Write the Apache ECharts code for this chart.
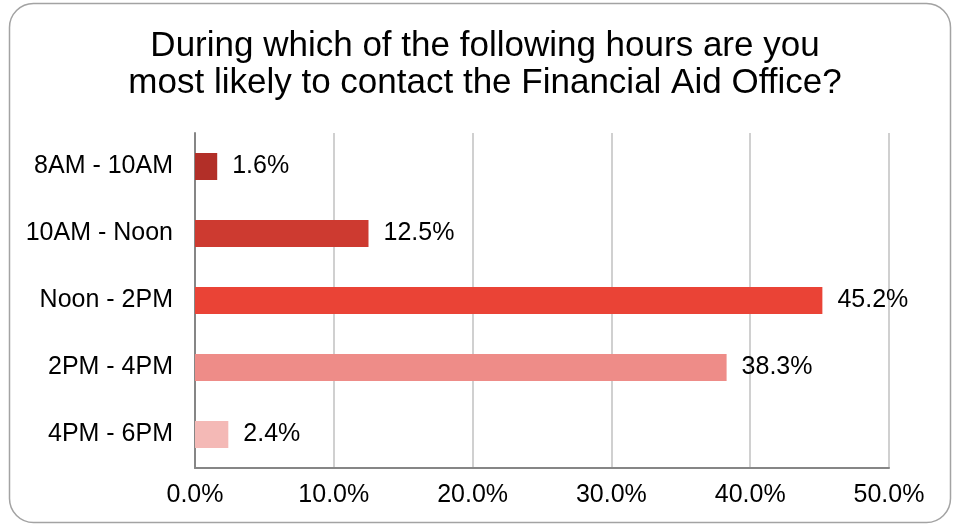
<!DOCTYPE html>
<html>
<head>
<meta charset="utf-8">
<script src="https://cdn.jsdelivr.net/npm/echarts@6/dist/echarts.min.js"></script>
<style>
  html, body { margin: 0; padding: 0; background: #fff; }
  #chart { width: 953px; height: 526px; }
</style>
</head>
<body>
<div id="chart"></div>
<script>
// categories top to bottom as shown
const categories = ['8AM - 10AM', '10AM - Noon', 'Noon - 2PM', '2PM - 4PM', '4PM - 6PM']
const percents = [1.6, 12.5, 45.2, 38.3, 2.4]
const barColors = ['#b22f28', '#cd3a30', '#ea4336', '#ee8c88', '#f4b9b6']
const titleText = 'During which of the following hours are you\nmost likely to contact the Financial Aid Office?'

const chart = echarts.init(document.getElementById('chart'))

const font = 'Liberation Sans, Arial, sans-serif'

const option = {
  animation: false,
  textStyle: { fontFamily: font },
  title: {
    text: titleText,
    left: 480,
    textAlign: 'center',
    top: 23,
    textStyle: {
      fontFamily: font,
      fontSize: 35,
      fontWeight: 'normal',
      lineHeight: 37,
      color: '#000'
    }
  },
  graphic: [
    {
      type: 'rect',
      shape: { x: 9.5, y: 3.5, width: 941, height: 519, r: 24 },
      style: { fill: 'none', stroke: '#a3a3a3', lineWidth: 1.5 },
      silent: true
    }
  ],
  grid: {
    left: 195,
    right: 64,
    top: 133,
    bottom: 58
  },
  xAxis: {
    type: 'value',
    min: 0,
    max: 50,
    interval: 10,
    axisLine: { show: true, lineStyle: { color: '#868686', width: 2 } },
    axisTick: { show: false },
    splitLine: { show: true, lineStyle: { color: '#d0d0d0', width: 2 } },
    axisLabel: {
      formatter: v => v.toFixed(1) + '%',
      fontSize: 25,
      color: '#000',
      margin: 15,
      fontFamily: font
    }
  },
  yAxis: {
    type: 'category',
    inverse: true,
    data: categories,
    axisLine: { show: true, lineStyle: { color: '#868686', width: 2 } },
    axisTick: { show: false },
    axisLabel: {
      fontSize: 25,
      color: '#000',
      margin: 22,
      fontFamily: font
    }
  },
  series: [
    {
      type: 'bar',
      barWidth: 27,
      data: percents.map((v, i) => ({ value: v, itemStyle: { color: barColors[i] } })),
      label: {
        show: true,
        position: 'right',
        distance: 15,
        formatter: p => p.value.toFixed(1) + '%',
        fontSize: 25,
        color: '#000',
        fontFamily: font
      }
    }
  ]
}

chart.setOption(option)
</script>
</body>
</html>
